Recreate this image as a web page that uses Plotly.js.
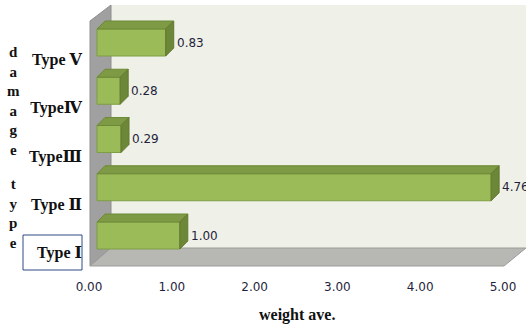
<!DOCTYPE html>
<html>
<head>
<meta charset="utf-8">
<script src="https://cdn.plot.ly/plotly-3.0.1.min.js"></script>
<style>
  html, body { margin: 0; padding: 0; background: #ffffff; }
  #chart { width: 526px; height: 326px; }
</style>
</head>
<body>
<div id="chart"></div>
<script>
// Damage types, bottom to top, and their weighted averages
const categories = ['Type Ⅰ', 'Type Ⅱ', 'TypeⅢ', 'TypeⅣ', 'Type Ⅴ'];
const weightAve = [1.00, 4.76, 0.29, 0.28, 0.83];
const xTicks = [0, 1, 2, 3, 4, 5];
const xTickText = ['0.00', '1.00', '2.00', '3.00', '4.00', '5.00'];

// Figure frame (pixels)
const W = 526, H = 326;
const M = { l: 89, r: 23, t: 5, b: 60 };
const plotW = W - M.l - M.r;   // 414 px for 0..5
const plotH = H - M.t - M.b;   // 261 px
const pxPerX = plotW / 5;
const pxPerCat = 48.25;
const yMin = -(30.5 / pxPerCat);
const yMax = yMin + plotH / pxPerCat;

// Bars sit a little in front of the side wall: shift their zero by 8 px
const barShift = 8 / pxPerX;
const barRange = [-barShift, 5 - barShift];

// 3-D depth of each bar
const depthX = 8 / pxPerX;
const depthY = 8 / pxPerCat;
const barWidth = 0.56;

// pixel -> paper helpers for the chart box decoration
const px = v => (v - M.l) / plotW;
const py = v => 1 - (v - M.t) / plotH;
const poly = pts => 'M' + pts.map(p => px(p[0]) + ',' + py(p[1])).join(' L') + ' Z';

const idx = categories.map((_, i) => i);

const shapes = [
  // back wall
  { type: 'path', xref: 'paper', yref: 'paper', layer: 'below',
    path: poly([[111, 5], [526, 5], [526, 248], [111, 248]]),
    fillcolor: '#eff1e8', line: { width: 0 } },
  // side wall
  { type: 'path', xref: 'paper', yref: 'paper', layer: 'below',
    path: poly([[90, 21], [111, 5], [111, 248], [90, 266]]),
    fillcolor: '#a0a0a0', line: { color: '#8f8f8f', width: 1 } },
  // floor
  { type: 'path', xref: 'paper', yref: 'paper', layer: 'below',
    path: poly([[90, 266], [111, 248], [526, 248], [504, 266]]),
    fillcolor: '#b7b7b3', line: { color: '#9c9c9a', width: 1 } },
  // frame around the first category label
  { type: 'rect', xref: 'paper', yref: 'paper', layer: 'above',
    x0: px(23), x1: px(82), y0: py(270), y1: py(235),
    line: { color: '#2e4a86', width: 1 }, fillcolor: 'rgba(0,0,0,0)' }
];

// top and side faces of every bar, built from its value
weightAve.forEach((v, i) => {
  const top = i + barWidth / 2, bot = i - barWidth / 2;
  shapes.push({
    type: 'path', xref: 'x', yref: 'y', layer: 'above',
    path: `M0,${top} L${v},${top} L${v + depthX},${top + depthY} L${depthX},${top + depthY} Z`,
    fillcolor: '#7e9a45', line: { color: '#6e8a38', width: 1 }
  });
  shapes.push({
    type: 'path', xref: 'x', yref: 'y', layer: 'above',
    path: `M${v},${bot} L${v},${top} L${v + depthX},${top + depthY} L${v + depthX},${bot + depthY} Z`,
    fillcolor: '#6c8737', line: { color: '#62792f', width: 1 }
  });
});

const annotations = weightAve.map((v, i) => ({
  xref: 'x', yref: 'y', x: v + depthX, y: i,
  text: v.toFixed(2), showarrow: false, xanchor: 'left', yanchor: 'middle', xshift: 1,
  font: { family: 'DejaVu Sans', size: 12, color: '#1f1f3d' }
}));

annotations.push(
  { xref: 'paper', yref: 'paper', x: px(13), y: py(101), text: 'd<br>a<br>m<br>a<br>g<br>e',
    showarrow: false, xanchor: 'center', yanchor: 'middle',
    font: { family: 'Liberation Serif', size: 15, color: '#111111', weight: 'bold' } },
  { xref: 'paper', yref: 'paper', x: px(13), y: py(213), text: 't<br>y<br>p<br>e',
    showarrow: false, xanchor: 'center', yanchor: 'middle',
    font: { family: 'Liberation Serif', size: 15, color: '#111111', weight: 'bold' } },
  { xref: 'paper', yref: 'paper', x: px(297), y: py(315), text: 'weight ave.',
    showarrow: false, xanchor: 'center', yanchor: 'middle',
    font: { family: 'Liberation Serif', size: 16, color: '#111111', weight: 'bold' } }
);

const bars = {
  type: 'bar', orientation: 'h',
  x: weightAve, y: idx, xaxis: 'x', yaxis: 'y',
  width: barWidth,
  marker: { color: '#9bbb59', line: { color: '#7f9d45', width: 1 } },
  hoverinfo: 'skip'
};

// carrier for the value scale (0..5) drawn under the floor
const scaleCarrier = {
  type: 'scatter', mode: 'markers', x: [xTicks[0]], y: [idx[0]],
  xaxis: 'x2', yaxis: 'y', marker: { opacity: 0 }, hoverinfo: 'skip'
};

const layout = {
  width: W, height: H,
  margin: M,
  paper_bgcolor: '#ffffff',
  plot_bgcolor: 'rgba(0,0,0,0)',
  showlegend: false,
  xaxis: {
    range: barRange, showticklabels: false,
    showgrid: false, zeroline: false, showline: false, ticks: '',
    fixedrange: true
  },
  xaxis2: {
    overlaying: 'x', anchor: 'y', side: 'bottom',
    range: [0, 5], tickvals: xTicks, ticktext: xTickText,
    showgrid: false, zeroline: false, showline: false, ticks: '',
    ticklabelstandoff: 12,
    tickfont: { family: 'DejaVu Sans', size: 12, color: '#1f1f3d' },
    fixedrange: true
  },
  yaxis: {
    range: [yMin, yMax], tickvals: idx, ticktext: categories,
    showgrid: false, zeroline: false, showline: false, ticks: '',
    ticklabelstandoff: 6, ticklabelshift: 17,
    tickfont: { family: 'Liberation Serif, DejaVu Serif, Noto Sans CJK SC', size: 16, color: '#111111', weight: 'bold' },
    fixedrange: true
  },
  shapes: shapes,
  annotations: annotations
};

Plotly.newPlot('chart', [bars, scaleCarrier], layout, { displayModeBar: false, staticPlot: true });
</script>
</body>
</html>
